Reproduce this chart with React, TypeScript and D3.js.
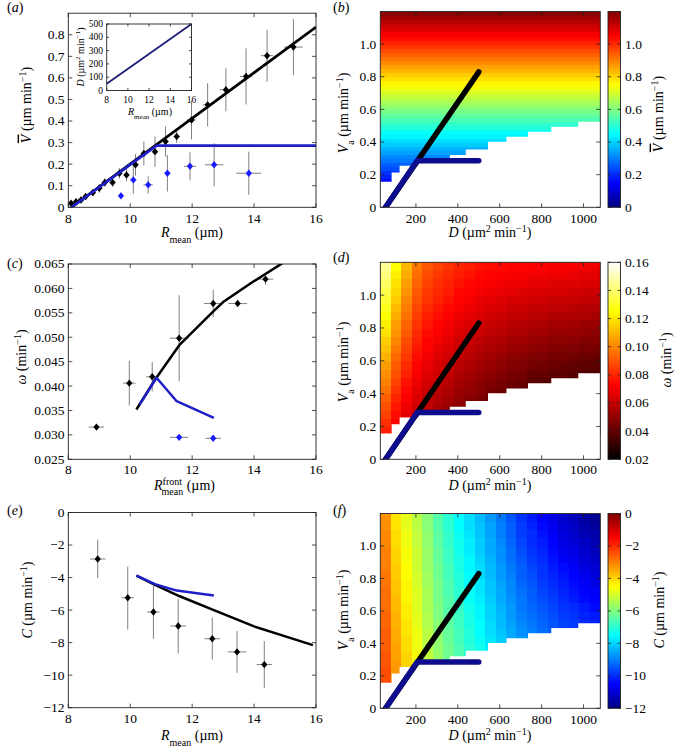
import React from 'react';
import * as d3 from 'd3';

const FONT = "'Liberation Serif', 'Times New Roman', serif";

// ---------------- (a) data ----------------
const aBlackR = [8.09, 8.25, 8.41, 8.56, 8.79, 9.0, 9.18, 9.43, 9.65, 9.88, 10.17, 10.44, 10.8, 11.14, 11.5, 11.98, 12.5, 13.09, 13.74, 14.42, 15.27];
const aBlackV = [0.019, 0.026, 0.034, 0.05, 0.068, 0.088, 0.115, 0.115, 0.158, 0.15, 0.197, 0.25, 0.258, 0.305, 0.328, 0.405, 0.475, 0.545, 0.607, 0.703, 0.743];
const aBlackVErr = [0.01, 0.01, 0.012, 0.012, 0.015, 0.02, 0.02, 0.02, 0.025, 0.03, 0.05, 0.055, 0.07, 0.07, 0.03, 0.09, 0.1, 0.1, 0.13, 0.12, 0.13];
const aBlackRErr = [0.05, 0.08, 0.08, 0.08, 0.1, 0.1, 0.1, 0.1, 0.1, 0.1, 0.1, 0.1, 0.1, 0.1, 0.1, 0.15, 0.15, 0.2, 0.2, 0.2, 0.3];
const aBlueR = [9.7, 10.1, 10.58, 11.2, 11.93, 12.71, 13.83];
const aBlueV = [0.053, 0.127, 0.104, 0.158, 0.19, 0.197, 0.158];
const aBlueVErr = [0.0, 0.065, 0.04, 0.085, 0.065, 0.1, 0.1];
const aBlueRErr = [0.05, 0.1, 0.15, 0.1, 0.2, 0.3, 0.4];
const aLineBlackR = [8.1, 16];
const aLineBlackV = [0, 0.836];
const aLineBlueR = [8.1, 10.85, 16];
const aLineBlueV = [0, 0.286, 0.286];
const insetR = [8, 16];
const insetD = [50, 500];
const aYTicks = [0, 0.1, 0.2, 0.3, 0.4, 0.5, 0.6, 0.7, 0.8];
const rTicks = [8, 10, 12, 14, 16];
const insetYTicks = [0, 100, 200, 300, 400, 500];

// ---------------- (c) data ----------------
const cBlackR = [8.91, 9.97, 10.71, 11.58, 12.68, 13.47, 14.37];
const cBlackW = [0.0316, 0.0406, 0.0419, 0.0498, 0.0569, 0.0569, 0.0619];
const cBlackWErr = [0.0005, 0.0046, 0.003, 0.0088, 0.0028, 0.0005, 0.0012];
const cBlackRErr = [0.25, 0.2, 0.2, 0.3, 0.3, 0.3, 0.25];
const cBlueR = [11.58, 12.68];
const cBlueW = [0.0295, 0.0293];
const cBlueRErr = [0.3, 0.25];
const cLineBlackR = [10.2, 10.8, 11.6, 12.7, 13.0, 14.0, 15.0];
const cLineBlackW = [0.0352, 0.0413, 0.0485, 0.0554, 0.0572, 0.0615, 0.0655];
const cLineBlueR = [10.3, 10.85, 11.5, 12.7];
const cLineBlueW = [0.0362, 0.0417, 0.0369, 0.0335];
const cYTicks = [0.025, 0.03, 0.035, 0.04, 0.045, 0.05, 0.055, 0.06, 0.065];

// ---------------- (e) data ----------------
const eR = [8.95, 9.92, 10.75, 11.55, 12.65, 13.45, 14.33];
const eC = [-2.86, -5.24, -6.12, -6.98, -7.76, -8.57, -9.35];
const eCLo = [-4.04, -7.2, -7.76, -8.67, -9.04, -9.86, -10.78];
const eCHi = [-1.67, -3.33, -4.5, -5.3, -6.47, -7.29, -7.9];
const eRErr = [0.25, 0.2, 0.2, 0.25, 0.25, 0.3, 0.25];
const eLineBlackR = [10.2, 10.8, 11.6, 12.7, 14.0, 15.9];
const eLineBlackC = [-3.88, -4.45, -5.15, -6.0, -7.0, -8.15];
const eLineBlueR = [10.2, 10.8, 11.5, 12.7];
const eLineBlueC = [-3.88, -4.4, -4.8, -5.1];
const eYTicks = [0, -2, -4, -6, -8, -10, -12];

// ---------------- heat maps (b, d, f) ----------------
const gridD = [30, 80, 130, 180, 230, 280, 330, 380, 430, 480, 530, 580, 630, 680, 730, 780, 830, 880, 930, 980, 1030, 1080];
const gridVa = [0.15, 0.2, 0.25, 0.3, 0.35, 0.4, 0.45, 0.5, 0.55, 0.6, 0.65, 0.7, 0.75, 0.8, 0.85, 0.9, 0.95, 1.0, 1.05, 1.1, 1.15, 1.2];
const bGridVa = [0.15, 0.175, 0.2, 0.225, 0.25, 0.275, 0.3, 0.325, 0.35, 0.375, 0.4, 0.425, 0.45, 0.475, 0.5, 0.525, 0.55, 0.575, 0.6, 0.625, 0.65, 0.675, 0.7, 0.725, 0.75, 0.775, 0.8, 0.825, 0.85, 0.875, 0.9, 0.925, 0.95, 0.975, 1.0, 1.025, 1.05, 1.075, 1.1, 1.125, 1.15, 1.175, 1.2];
const bRowV = [0.16, 0.19, 0.21, 0.24, 0.26, 0.29, 0.31, 0.34, 0.36, 0.39, 0.41, 0.44, 0.46, 0.49, 0.51, 0.54, 0.56, 0.59, 0.61, 0.64, 0.66, 0.69, 0.71, 0.74, 0.76, 0.79, 0.81, 0.84, 0.86, 0.89, 0.91, 0.94, 0.96, 0.99, 1.01, 1.04, 1.06, 1.09, 1.11, 1.14, 1.16, 1.19];

// omega (min^-1), rows bottom (Va 0.15) -> top (Va 1.2), columns D 30 -> 1080
const omegaGrid = [
  [.079, .069, .062, .057, .053, .050, .047, .043, .041, .038, .035, .033, .030, .028, .025, .024, .022, .021, .020, .019, .018],
  [.082, .072, .064, .059, .055, .052, .049, .045, .043, .040, .037, .035, .032, .030, .027, .026, .024, .024, .023, .022, .021],
  [.086, .075, .067, .061, .057, .054, .051, .047, .045, .042, .039, .037, .034, .033, .030, .029, .027, .026, .025, .024, .023],
  [.089, .077, .069, .063, .059, .055, .052, .049, .047, .044, .041, .039, .037, .035, .032, .031, .029, .029, .028, .027, .026],
  [.092, .080, .072, .065, .060, .057, .054, .050, .048, .046, .043, .041, .039, .037, .034, .034, .032, .031, .030, .029, .028],
  [.096, .083, .074, .067, .062, .059, .056, .052, .050, .048, .045, .043, .041, .039, .037, .036, .034, .034, .033, .032, .031],
  [.099, .086, .076, .069, .064, .061, .058, .054, .052, .049, .047, .045, .043, .042, .039, .038, .037, .036, .035, .034, .034],
  [.102, .089, .079, .071, .066, .063, .060, .056, .054, .051, .049, .047, .045, .044, .041, .041, .039, .039, .038, .037, .036],
  [.105, .091, .081, .073, .068, .064, .061, .058, .056, .053, .051, .049, .047, .046, .044, .043, .042, .041, .040, .039, .039],
  [.109, .094, .084, .075, .070, .066, .063, .060, .058, .055, .053, .051, .049, .048, .046, .046, .044, .044, .043, .042, .041],
  [.112, .097, .086, .077, .072, .068, .065, .062, .060, .057, .055, .054, .052, .051, .049, .048, .047, .046, .046, .045, .044],
  [.115, .100, .088, .079, .073, .070, .067, .063, .061, .059, .057, .056, .054, .053, .051, .050, .049, .049, .048, .047, .047],
  [.119, .103, .091, .081, .075, .072, .069, .065, .063, .061, .059, .058, .056, .055, .053, .053, .051, .051, .051, .050, .049],
  [.122, .105, .093, .083, .077, .073, .070, .067, .065, .063, .061, .060, .058, .057, .056, .055, .054, .054, .053, .052, .052],
  [.125, .108, .096, .085, .079, .075, .072, .069, .067, .065, .063, .062, .060, .060, .058, .058, .056, .056, .056, .055, .054],
  [.129, .111, .098, .087, .081, .077, .074, .071, .069, .067, .065, .064, .062, .062, .060, .060, .059, .059, .058, .057, .057],
  [.132, .114, .100, .089, .083, .079, .076, .073, .071, .068, .067, .066, .064, .064, .063, .062, .061, .061, .061, .060, .060],
  [.135, .117, .103, .091, .084, .081, .078, .074, .072, .070, .069, .068, .067, .066, .065, .065, .064, .064, .063, .062, .062],
  [.138, .119, .105, .093, .086, .082, .079, .076, .074, .072, .071, .070, .069, .069, .067, .067, .066, .066, .066, .065, .065],
  [.142, .122, .108, .095, .088, .084, .081, .078, .076, .074, .073, .072, .071, .071, .070, .070, .069, .069, .068, .067, .067],
  [.145, .125, .110, .097, .090, .086, .083, .080, .078, .076, .075, .074, .073, .073, .072, .072, .071, .071, .071, .070, .070],
];

// C (um min^-1), same grid
const cGrid = [
  [-2.4, -3.3, -3.9, -4.5, -5.1, -5.6, -6.1, -6.4, -6.8, -7.1, -7.5, -7.8, -8.1, -8.4, -8.5, -8.7, -8.8, -8.9, -9.0, -9.1, -9.2],
  [-2.4, -3.3, -3.9, -4.5, -5.1, -5.6, -6.1, -6.5, -6.9, -7.2, -7.6, -7.9, -8.2, -8.4, -8.6, -8.7, -8.9, -9.0, -9.1, -9.2, -9.3],
  [-2.5, -3.3, -4.0, -4.6, -5.2, -5.7, -6.1, -6.5, -6.9, -7.2, -7.6, -7.9, -8.2, -8.5, -8.7, -8.8, -9.0, -9.1, -9.2, -9.4, -9.5],
  [-2.5, -3.4, -4.0, -4.6, -5.2, -5.7, -6.2, -6.6, -7.0, -7.3, -7.7, -8.0, -8.3, -8.6, -8.8, -8.9, -9.1, -9.2, -9.4, -9.5, -9.6],
  [-2.6, -3.4, -4.1, -4.7, -5.3, -5.8, -6.2, -6.6, -7.0, -7.3, -7.7, -8.1, -8.4, -8.7, -8.8, -9.0, -9.2, -9.3, -9.5, -9.6, -9.7],
  [-2.6, -3.5, -4.1, -4.7, -5.3, -5.8, -6.3, -6.7, -7.1, -7.4, -7.8, -8.1, -8.5, -8.7, -8.9, -9.1, -9.3, -9.5, -9.6, -9.7, -9.9],
  [-2.6, -3.5, -4.2, -4.7, -5.3, -5.9, -6.3, -6.7, -7.1, -7.5, -7.9, -8.2, -8.5, -8.8, -9.0, -9.2, -9.4, -9.6, -9.7, -9.9, -10.0],
  [-2.7, -3.6, -4.2, -4.8, -5.4, -5.9, -6.4, -6.8, -7.2, -7.5, -7.9, -8.3, -8.6, -8.9, -9.1, -9.3, -9.5, -9.7, -9.8, -10.0, -10.1],
  [-2.7, -3.6, -4.3, -4.8, -5.4, -6.0, -6.4, -6.8, -7.2, -7.6, -8.0, -8.3, -8.7, -9.0, -9.2, -9.4, -9.6, -9.8, -9.9, -10.1, -10.2],
  [-2.8, -3.7, -4.3, -4.9, -5.5, -6.0, -6.5, -6.9, -7.3, -7.6, -8.0, -8.4, -8.7, -9.1, -9.3, -9.5, -9.7, -9.9, -10.0, -10.2, -10.4],
  [-2.8, -3.7, -4.4, -4.9, -5.5, -6.1, -6.5, -7.0, -7.4, -7.7, -8.1, -8.5, -8.8, -9.1, -9.4, -9.6, -9.8, -10.0, -10.2, -10.4, -10.5],
  [-2.8, -3.8, -4.4, -4.9, -5.5, -6.1, -6.6, -7.0, -7.4, -7.8, -8.2, -8.5, -8.9, -9.2, -9.4, -9.7, -9.9, -10.1, -10.3, -10.5, -10.6],
  [-2.9, -3.8, -4.4, -5.0, -5.6, -6.1, -6.6, -7.1, -7.5, -7.8, -8.2, -8.6, -8.9, -9.3, -9.5, -9.8, -10.0, -10.2, -10.4, -10.6, -10.8],
  [-2.9, -3.9, -4.5, -5.0, -5.6, -6.2, -6.7, -7.1, -7.5, -7.9, -8.3, -8.7, -9.0, -9.4, -9.6, -9.9, -10.1, -10.3, -10.5, -10.7, -10.9],
  [-3.0, -3.9, -4.5, -5.1, -5.7, -6.2, -6.7, -7.2, -7.6, -7.9, -8.3, -8.7, -9.1, -9.4, -9.7, -9.9, -10.2, -10.4, -10.6, -10.9, -11.0],
  [-3.0, -4.0, -4.6, -5.1, -5.7, -6.3, -6.8, -7.2, -7.6, -8.0, -8.4, -8.8, -9.2, -9.5, -9.8, -10.0, -10.3, -10.6, -10.7, -11.0, -11.2],
  [-3.0, -4.0, -4.6, -5.1, -5.7, -6.3, -6.8, -7.3, -7.7, -8.1, -8.5, -8.8, -9.2, -9.6, -9.9, -10.1, -10.4, -10.7, -10.8, -11.1, -11.3],
  [-3.1, -4.1, -4.7, -5.2, -5.8, -6.4, -6.9, -7.3, -7.7, -8.1, -8.5, -8.9, -9.3, -9.7, -10.0, -10.2, -10.5, -10.8, -11.0, -11.2, -11.4],
  [-3.1, -4.1, -4.7, -5.2, -5.8, -6.4, -6.9, -7.4, -7.8, -8.2, -8.6, -9.0, -9.4, -9.8, -10.0, -10.3, -10.6, -10.9, -11.1, -11.4, -11.5],
  [-3.2, -4.2, -4.8, -5.3, -5.9, -6.5, -7.0, -7.5, -7.9, -8.2, -8.6, -9.0, -9.4, -9.8, -10.1, -10.4, -10.7, -11.0, -11.2, -11.5, -11.7],
  [-3.2, -4.2, -4.8, -5.3, -5.9, -6.5, -7.0, -7.5, -7.9, -8.3, -8.7, -9.1, -9.5, -9.9, -10.2, -10.5, -10.8, -11.1, -11.3, -11.6, -11.8],
];

// white (no solution) region: staircase boundary
const maskD = [30, 84, 122, 211, 362, 438, 544, 632, 735, 846, 975, 1080];
const maskVa = [0.157, 0.214, 0.255, 0.285, 0.32, 0.355, 0.402, 0.432, 0.463, 0.494, 0.524, 0.524];

const pathBlackD = [55, 500];
const pathBlackVa = [0, 0.83];
const pathBlueD = [55, 206, 500];
const pathBlueVa = [0, 0.285, 0.285];

const hmXTicks = [200, 400, 600, 800, 1000];
const hmYTicks = [0, 0.2, 0.4, 0.6, 0.8, 1.0];
const cbBTicks = [0, 0.2, 0.4, 0.6, 0.8, 1.0];
const cbDTicks = [0.02, 0.04, 0.06, 0.08, 0.1, 0.12, 0.14, 0.16];
const cbFTicks = [0, -2, -4, -6, -8, -10, -12];

// ---------------- colour maps ----------------
const clamp = (v: number) => Math.max(0, Math.min(1, v));
function jet(t: number) {
  const r = clamp(1.5 - Math.abs(4 * t - 3));
  const g = clamp(1.5 - Math.abs(4 * t - 2));
  const b = clamp(1.5 - Math.abs(4 * t - 1));
  return d3.rgb(r * 255, g * 255, b * 255).formatHex();
}
function hot(t: number) {
  const r = clamp(t / 0.375);
  const g = clamp((t - 0.375) / 0.375);
  const b = clamp((t - 0.75) / 0.25);
  return d3.rgb(r * 255, g * 255, b * 255).formatHex();
}

const minus = (v: number) => (v < 0 ? '\u2212' + Math.abs(v) : String(v));
const f1 = (v: number) => (v === 0 ? '0' : v.toFixed(1));

const BOX = '#222';
const ERR = '#808080';
const BLUE_LINE = '#1f1fc8';
const BLUE_PT = '#1a1aff';
const NAVY = '#0c0c8c';
const FS = 13.5;
const LFS = 14;
const SFS = 10;

// layout
const LX = { x0: 68.3, x1: 316 };
const RX = { x0: 380.3, x1: 600.3 };
const CBX = { x0: 608, x1: 620.5 };

type Sc = (v: number) => number;

// text element with the serif font applied directly
function T(props: any) {
  const { style, ...rest } = props;
  return <text {...rest} style={{ fontFamily: FONT, ...(style || {}) }} />;
}

function Frame(p: {
  x0: number; x1: number; y0: number; y1: number; xs: Sc; ys: Sc;
  xTicks: number[]; yTicks: number[]; xFmt: (v: number) => string; yFmt: (v: number) => string;
  xLabY: number; yLabX: number; fs?: number; tl?: number;
}) {
  const tl = p.tl ?? 4;
  const fs = p.fs ?? FS;
  return (
    <g>
      {p.xTicks.map((v) => {
        const x = p.xs(v);
        return (
          <g key={'x' + v}>
            <line x1={x} x2={x} y1={p.y1} y2={p.y1 - tl} stroke={BOX} strokeWidth={0.8} />
            <line x1={x} x2={x} y1={p.y0} y2={p.y0 + tl} stroke={BOX} strokeWidth={0.8} />
            <T x={x} y={p.xLabY} dy="0.33em" textAnchor="middle" fontSize={fs}>{p.xFmt(v)}</T>
          </g>
        );
      })}
      {p.yTicks.map((v) => {
        const y = p.ys(v);
        return (
          <g key={'y' + v}>
            <line x1={p.x0} x2={p.x0 + tl} y1={y} y2={y} stroke={BOX} strokeWidth={0.8} />
            <line x1={p.x1} x2={p.x1 - tl} y1={y} y2={y} stroke={BOX} strokeWidth={0.8} />
            <T x={p.yLabX} y={y} dy="0.33em" textAnchor="end" fontSize={fs}>{p.yFmt(v)}</T>
          </g>
        );
      })}
      <rect x={p.x0} y={p.y0} width={p.x1 - p.x0} height={p.y1 - p.y0} fill="none" stroke={BOX} strokeWidth={0.9} />
    </g>
  );
}

function Diamond({ x, y, fill }: { x: number; y: number; fill: string }) {
  return <path d={`M${x},${y - 3.7}L${x + 3.1},${y}L${x},${y + 3.7}L${x - 3.1},${y}Z`} fill={fill} />;
}

function Points(p: { xs: Sc; ys: Sc; X: number[]; Y: number[]; lo: number[]; hi: number[]; xe: number[]; fill: string }) {
  return (
    <g>
      {p.X.map((x, i) => (
        <g key={i}>
          {p.hi[i] !== p.lo[i] && (
            <line x1={p.xs(x)} x2={p.xs(x)} y1={p.ys(p.lo[i])} y2={p.ys(p.hi[i])} stroke={ERR} strokeWidth={1} />
          )}
          <line x1={p.xs(x - p.xe[i])} x2={p.xs(x + p.xe[i])} y1={p.ys(p.Y[i])} y2={p.ys(p.Y[i])} stroke={ERR} strokeWidth={1} />
        </g>
      ))}
      {p.X.map((x, i) => (
        <Diamond key={'d' + i} x={p.xs(x)} y={p.ys(p.Y[i])} fill={p.fill} />
      ))}
    </g>
  );
}

function PolyLine(p: { xs: Sc; ys: Sc; X: number[]; Y: number[]; color: string; w: number; cap?: 'round' | 'butt' }) {
  const gen = d3.line<number>().x((_, i) => p.xs(p.X[i])).y((v) => p.ys(v));
  return (
    <path d={gen(p.Y) || ''} fill="none" stroke={p.color} strokeWidth={p.w}
      strokeLinecap={p.cap ?? 'butt'} strokeLinejoin="round" />
  );
}

function Colorbar(p: { id: string; y0: number; y1: number; domain: [number, number]; cmap: (t: number) => string; ticks: number[]; fmt: (v: number) => string }) {
  const ys = d3.scaleLinear().domain(p.domain).range([p.y1, p.y0]);
  const stops = d3.range(0, 65).map((i) => i / 64);
  return (
    <g>
      <defs>
        <linearGradient id={p.id} x1="0" y1="1" x2="0" y2="0">
          {stops.map((t) => (
            <stop key={t} offset={t} stopColor={p.cmap(t)} />
          ))}
        </linearGradient>
      </defs>
      <rect x={CBX.x0} y={p.y0} width={CBX.x1 - CBX.x0} height={p.y1 - p.y0} fill={`url(#${p.id})`} />
      {p.ticks.map((v) => {
        const y = ys(v);
        return (
          <g key={v}>
            <line x1={CBX.x0} x2={CBX.x0 + 3} y1={y} y2={y} stroke={BOX} strokeWidth={0.8} />
            <line x1={CBX.x1} x2={CBX.x1 - 3} y1={y} y2={y} stroke={BOX} strokeWidth={0.8} />
            <T x={CBX.x1 + 4.5} y={y} dy="0.33em" fontSize={FS}>{p.fmt(v)}</T>
          </g>
        );
      })}
      <rect x={CBX.x0} y={p.y0} width={CBX.x1 - CBX.x0} height={p.y1 - p.y0} fill="none" stroke={BOX} strokeWidth={0.9} />
    </g>
  );
}

function Heat(p: {
  id: string; y0: number; y1: number; label: string; labelY: number;
  cells: React.ReactNode; xs: Sc; ys: Sc; xLabY: number; xTitleY: number; yTitleY: number;
}) {
  const maskPts = maskD.map((d, i) => ({ d, v: maskVa[i] }));
  const area = d3.area<{ d: number; v: number }>()
    .x((q) => p.xs(q.d)).y0(p.ys(0)).y1((q) => p.ys(q.v)).curve(d3.curveStepAfter);
  return (
    <g>
      <defs>
        <clipPath id={p.id + 'clip'}>
          <rect x={RX.x0} y={p.y0} width={RX.x1 - RX.x0} height={p.y1 - p.y0} />
        </clipPath>
      </defs>
      <g clipPath={`url(#${p.id}clip)`}>
        {p.cells}
        <path d={area(maskPts) || ''} fill="#fff" />
        <PolyLine xs={p.xs} ys={p.ys} X={pathBlackD} Y={pathBlackVa} color="#000" w={5.5} cap="round" />
        <PolyLine xs={p.xs} ys={p.ys} X={pathBlueD} Y={pathBlueVa} color={NAVY} w={5.5} cap="round" />
      </g>
      <Frame x0={RX.x0} x1={RX.x1} y0={p.y0} y1={p.y1} xs={p.xs} ys={p.ys}
        xTicks={hmXTicks} yTicks={hmYTicks} xFmt={(v) => String(v)} yFmt={f1}
        xLabY={p.xLabY} yLabX={RX.x0 - 4} />
      <T x={490} y={p.xTitleY} dy="0.33em" textAnchor="middle" fontSize={LFS}>
        <tspan fontStyle="italic">D</tspan> (µm<tspan baselineShift="super" fontSize={SFS}>2</tspan> min<tspan baselineShift="super" fontSize={SFS}>−1</tspan>)
      </T>
      <T transform={`translate(343,${p.yTitleY}) rotate(-90)`} dy="0.33em" textAnchor="middle" fontSize={LFS}>
        <tspan fontStyle="italic">V</tspan><tspan baselineShift="sub" fontSize={SFS}>a</tspan> (µm min<tspan baselineShift="super" fontSize={SFS}>−1</tspan>)
      </T>
      <T x={333} y={p.labelY} dy="0.33em" fontSize={14}>(<tspan fontStyle="italic">{p.label}</tspan>)</T>
    </g>
  );
}

export default function App() {
  // ---- (a)
  const A = { y0: 13.2, y1: 207.3 };
  const axs = d3.scaleLinear().domain([8, 16]).range([LX.x0, LX.x1]);
  const ays = d3.scaleLinear().domain([0, 0.9]).range([A.y1, A.y0]);
  const IN = { x0: 106.7, x1: 191.5, y0: 24, y1: 90.5 };
  const ixs = d3.scaleLinear().domain([8, 16]).range([IN.x0, IN.x1]);
  const iys = d3.scaleLinear().domain([0, 500]).range([IN.y1, IN.y0]);

  // ---- (c)
  const C = { y0: 264, y1: 459.3 };
  const cys = d3.scaleLinear().domain([0.025, 0.065]).range([C.y1, C.y0]);
  // ---- (e)
  const E = { y0: 512.5, y1: 707.7 };
  const eys = d3.scaleLinear().domain([-12, 0]).range([E.y1, E.y0]);

  // ---- heat panels
  const B = { y0: 11.5, y1: 207.3 };
  const Dp = { y0: 262.3, y1: 459.3 };
  const F = { y0: 513.5, y1: 708.3 };
  const hxs = d3.scaleLinear().domain([30, 1080]).range([RX.x0, RX.x1]);
  const bys = d3.scaleLinear().domain([0, 1.2]).range([B.y1, B.y0]);
  const dys = d3.scaleLinear().domain([0, 1.2]).range([Dp.y1, Dp.y0]);
  const fys = d3.scaleLinear().domain([0, 1.2]).range([F.y1, F.y0]);

  const bCells = (
    <g shapeRendering="crispEdges">
      {bRowV.map((v, r) => {
        const ya = bys(bGridVa[r + 1]);
        const yb = bys(bGridVa[r]);
        return <rect key={r} x={RX.x0} y={ya} width={RX.x1 - RX.x0} height={yb - ya + 0.6} fill={jet(v / 1.2)} />;
      })}
    </g>
  );
  const gridCells = (grid: number[][], ys: Sc, col: (v: number) => string) => (
    <g shapeRendering="crispEdges">
      {grid.map((row, r) =>
        row.map((v, c) => {
          const xa = hxs(gridD[c]);
          const xb = hxs(gridD[c + 1]);
          const ya = ys(gridVa[r + 1]);
          const yb = ys(gridVa[r]);
          return <rect key={r + '-' + c} x={xa} y={ya} width={xb - xa + 0.6} height={yb - ya + 0.6} fill={col(v)} />;
        })
      )}
    </g>
  );
  const dCells = gridCells(omegaGrid, dys, (v) => hot((v - 0.02) / 0.14));
  const fCells = gridCells(cGrid, fys, (v) => jet((v + 12) / 12));

  const sym = (Y: number[], e: number[], s: number) => Y.map((y, i) => y + s * e[i]);

  return (
    <div style={{ position: 'absolute', left: 0, top: 0 }}>
      <svg width={674} height={748} style={{ display: 'block', background: '#fff' }}>
        <rect width={674} height={748} fill="#fff" />
        <defs>
          <clipPath id="clipA"><rect x={LX.x0} y={A.y0} width={LX.x1 - LX.x0} height={A.y1 - A.y0} /></clipPath>
          <clipPath id="clipC"><rect x={LX.x0} y={C.y0} width={LX.x1 - LX.x0} height={C.y1 - C.y0} /></clipPath>
          <clipPath id="clipE"><rect x={LX.x0} y={E.y0} width={LX.x1 - LX.x0} height={E.y1 - E.y0} /></clipPath>
        </defs>

        {/* ---------- (a) ---------- */}
        <g clipPath="url(#clipA)">
          <Points xs={axs} ys={ays} X={aBlackR} Y={aBlackV} lo={sym(aBlackV, aBlackVErr, -1)} hi={sym(aBlackV, aBlackVErr, 1)} xe={aBlackRErr} fill="#000" />
          <Points xs={axs} ys={ays} X={aBlueR} Y={aBlueV} lo={sym(aBlueV, aBlueVErr, -1)} hi={sym(aBlueV, aBlueVErr, 1)} xe={aBlueRErr} fill={BLUE_PT} />
          <PolyLine xs={axs} ys={ays} X={aLineBlackR} Y={aLineBlackV} color="#000" w={2.7} />
          <PolyLine xs={axs} ys={ays} X={aLineBlueR} Y={aLineBlueV} color={BLUE_LINE} w={2.7} />
        </g>
        <Frame x0={LX.x0} x1={LX.x1} y0={A.y0} y1={A.y1} xs={axs} ys={ays} xTicks={rTicks} yTicks={aYTicks}
          xFmt={(v) => String(v)} yFmt={f1} xLabY={218.5} yLabX={64.5} />
        {/* inset */}
        <rect x={IN.x0} y={IN.y0} width={IN.x1 - IN.x0} height={IN.y1 - IN.y0} fill="#fff" />
        <PolyLine xs={ixs} ys={iys} X={insetR} Y={insetD} color="#1d1d7a" w={1.8} />
        <Frame x0={IN.x0} x1={IN.x1} y0={IN.y0} y1={IN.y1} xs={ixs} ys={iys} xTicks={rTicks} yTicks={insetYTicks}
          xFmt={(v) => String(v)} yFmt={(v) => String(v)} xLabY={99.5} yLabX={103} fs={9.5} tl={2.5} />
        <T x={150} y={112} dy="0.33em" textAnchor="middle" fontSize={10}>
          <tspan fontStyle="italic">R</tspan><tspan baselineShift="sub" fontSize={7}>mean</tspan> (µm)
        </T>
        <T transform="translate(80.5,57) rotate(-90)" dy="0.33em" textAnchor="middle" fontSize={10}>
          <tspan fontStyle="italic">D</tspan> (µm<tspan baselineShift="super" fontSize={7}>2</tspan> min<tspan baselineShift="super" fontSize={7}>−1</tspan>)
        </T>
        <T x={192} y={232} dy="0.33em" textAnchor="middle" fontSize={LFS}>
          <tspan fontStyle="italic">R</tspan><tspan baselineShift="sub" fontSize={SFS}>mean</tspan> (µm)
        </T>
        <T transform="translate(26,105) rotate(-90)" dy="0.33em" textAnchor="middle" fontSize={LFS}>
          <tspan fontStyle="italic" style={{ textDecoration: 'overline' }}>V</tspan> (µm min<tspan baselineShift="super" fontSize={SFS}>−1</tspan>)
        </T>
        <T x={7} y={7} dy="0.33em" fontSize={14}>(<tspan fontStyle="italic">a</tspan>)</T>

        {/* ---------- (c) ---------- */}
        <g clipPath="url(#clipC)">
          <Points xs={axs} ys={cys} X={cBlackR} Y={cBlackW} lo={sym(cBlackW, cBlackWErr, -1)} hi={sym(cBlackW, cBlackWErr, 1)} xe={cBlackRErr} fill="#000" />
          <Points xs={axs} ys={cys} X={cBlueR} Y={cBlueW} lo={cBlueW} hi={cBlueW} xe={cBlueRErr} fill={BLUE_PT} />
          <PolyLine xs={axs} ys={cys} X={cLineBlackR} Y={cLineBlackW} color="#000" w={2.5} />
          <PolyLine xs={axs} ys={cys} X={cLineBlueR} Y={cLineBlueW} color={BLUE_LINE} w={2.5} />
        </g>
        <Frame x0={LX.x0} x1={LX.x1} y0={C.y0} y1={C.y1} xs={axs} ys={cys} xTicks={rTicks} yTicks={cYTicks}
          xFmt={(v) => String(v)} yFmt={(v) => v.toFixed(3)} xLabY={470} yLabX={64.5} />
        <T x={154} y={485} dy="0.33em" fontSize={LFS}>
          <tspan fontStyle="italic">R</tspan>
          <tspan fontSize={SFS} dy={-5}>front</tspan>
          <tspan fontSize={SFS} dx={-20.5} dy={10}>mean</tspan>
          <tspan dy={-5}> (µm)</tspan>
        </T>
        <T transform="translate(21,357) rotate(-90)" dy="0.33em" textAnchor="middle" fontSize={LFS}>
          <tspan fontStyle="italic">ω</tspan> (min<tspan baselineShift="super" fontSize={SFS}>−1</tspan>)
        </T>
        <T x={7} y={263.5} dy="0.33em" fontSize={14}>(<tspan fontStyle="italic">c</tspan>)</T>

        {/* ---------- (e) ---------- */}
        <g clipPath="url(#clipE)">
          <Points xs={axs} ys={eys} X={eR} Y={eC} lo={eCLo} hi={eCHi} xe={eRErr} fill="#000" />
          <PolyLine xs={axs} ys={eys} X={eLineBlackR} Y={eLineBlackC} color="#000" w={2.5} />
          <PolyLine xs={axs} ys={eys} X={eLineBlueR} Y={eLineBlueC} color={BLUE_LINE} w={2.5} />
        </g>
        <Frame x0={LX.x0} x1={LX.x1} y0={E.y0} y1={E.y1} xs={axs} ys={eys} xTicks={rTicks} yTicks={eYTicks}
          xFmt={(v) => String(v)} yFmt={minus} xLabY={719} yLabX={64.5} />
        <T x={192} y={735} dy="0.33em" textAnchor="middle" fontSize={LFS}>
          <tspan fontStyle="italic">R</tspan><tspan baselineShift="sub" fontSize={SFS}>mean</tspan> (µm)
        </T>
        <T transform="translate(27,600) rotate(-90)" dy="0.33em" textAnchor="middle" fontSize={LFS}>
          <tspan fontStyle="italic">C</tspan> (µm min<tspan baselineShift="super" fontSize={SFS}>−1</tspan>)
        </T>
        <T x={7} y={510} dy="0.33em" fontSize={14}>(<tspan fontStyle="italic">e</tspan>)</T>

        {/* ---------- (b) ---------- */}
        <Heat id="hb" y0={B.y0} y1={B.y1} label="b" labelY={7} cells={bCells} xs={hxs} ys={bys}
          xLabY={218.5} xTitleY={232} yTitleY={113} />
        <Colorbar id="gb" y0={B.y0} y1={B.y1} domain={[0, 1.2]} cmap={jet} ticks={cbBTicks} fmt={f1} />
        <T transform="translate(658,114) rotate(-90)" dy="0.33em" textAnchor="middle" fontSize={LFS}>
          <tspan fontStyle="italic" style={{ textDecoration: 'overline' }}>V</tspan> (µm min<tspan baselineShift="super" fontSize={SFS}>−1</tspan>)
        </T>

        {/* ---------- (d) ---------- */}
        <Heat id="hd" y0={Dp.y0} y1={Dp.y1} label="d" labelY={257.5} cells={dCells} xs={hxs} ys={dys}
          xLabY={470} xTitleY={485} yTitleY={362} />
        <Colorbar id="gd" y0={Dp.y0} y1={Dp.y1} domain={[0.02, 0.16]} cmap={hot} ticks={cbDTicks} fmt={(v) => v.toFixed(2)} />
        <T transform="translate(666,360) rotate(-90)" dy="0.33em" textAnchor="middle" fontSize={LFS}>
          <tspan fontStyle="italic">ω</tspan> (min<tspan baselineShift="super" fontSize={SFS}>−1</tspan>)
        </T>

        {/* ---------- (f) ---------- */}
        <Heat id="hf" y0={F.y0} y1={F.y1} label="f" labelY={510} cells={fCells} xs={hxs} ys={fys}
          xLabY={719.5} xTitleY={735} yTitleY={610} />
        <Colorbar id="gf" y0={F.y0} y1={F.y1} domain={[-12, 0]} cmap={jet} ticks={cbFTicks} fmt={minus} />
        <T transform="translate(659,610) rotate(-90)" dy="0.33em" textAnchor="middle" fontSize={LFS}>
          <tspan fontStyle="italic">C</tspan> (µm min<tspan baselineShift="super" fontSize={SFS}>−1</tspan>)
        </T>
      </svg>
    </div>
  );
}
